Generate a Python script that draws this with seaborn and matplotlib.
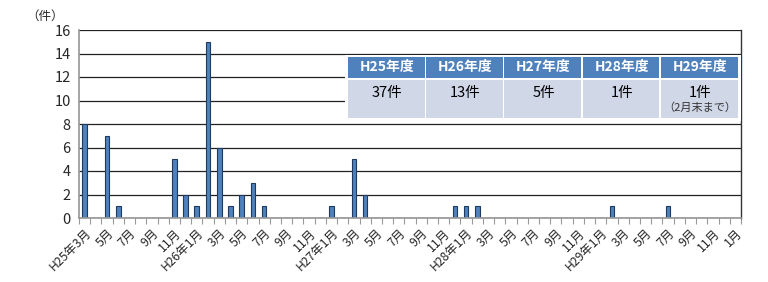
import matplotlib
matplotlib.use("Agg")
import matplotlib.pyplot as plt
import seaborn as sns
import pandas as pd
from matplotlib.patches import Rectangle
from matplotlib.ticker import FixedLocator

# ---- data ----
months = [f"{2013 + (2 + i) // 12}-{(2 + i) % 12 + 1:02d}" for i in range(59)]  # 2013-03 .. 2018-01
counts = [8, 0, 7, 1, 0, 0, 0, 0, 5, 2, 1, 15, 6, 1, 2, 3, 1, 0, 0, 0, 0, 0, 1, 0, 5, 2,
          0, 0, 0, 0, 0, 0, 0, 1, 1, 1, 0, 0, 0, 0, 0, 0, 0, 0, 0, 0, 0, 1, 0, 0, 0, 0, 1,
          0, 0, 0, 0, 0, 0]
tick_labels = ["H25年3月", "5月", "7月", "9月", "11月", "H26年1月", "3月", "5月", "7月", "9月",
               "11月", "H27年1月", "3月", "5月", "7月", "9月", "11月", "H28年1月", "3月", "5月",
               "7月", "9月", "11月", "H29年1月", "3月", "5月", "7月", "9月", "11月", "1月"]
fy_labels = ["H25年度", "H26年度", "H27年度", "H28年度", "H29年度"]
fy_counts = ["37件", "13件", "5件", "1件", "1件"]
fy_notes = ["", "", "", "", "（2月末まで）"]

sns.set_theme(style="white")
plt.rcParams["font.family"] = ["Noto Sans CJK JP", "DejaVu Sans"]

W, H = 768, 282
fig = plt.figure(figsize=(W / 100, H / 100), dpi=100)
L, R, T, B = 79, 741, 30, 218
ax = fig.add_axes([L / W, 1 - B / H, (R - L) / W, (B - T) / H])

df = pd.DataFrame({"month": months, "count": counts})
sns.barplot(data=df, x="month", y="count", order=months, color="#4F81BD",
            saturation=1, width=0.42, edgecolor="#1F3A60", linewidth=0.8, ax=ax)

ax.set_xlim(-0.5, len(months) - 0.5)
ax.set_ylim(0, 16)
ax.set_yticks(range(0, 17, 2))
ax.yaxis.grid(True, color="#222222", linewidth=0.9)
ax.set_axisbelow(True)
ax.set_xlabel("")
ax.set_ylabel("")

ax.set_xticks(range(0, len(months), 2))
ax.set_xticklabels(tick_labels, rotation=45, ha="right", rotation_mode="anchor", fontsize=8.8)
ax.xaxis.set_minor_locator(FixedLocator([i - 0.5 for i in range(len(months) + 1)]))
ax.tick_params(axis="x", which="major", length=0, pad=6)
ax.tick_params(axis="x", which="minor", bottom=True, length=4, width=0.8, color="#999999")
ax.tick_params(axis="y", labelsize=10.5, length=0, pad=6)

ax.spines["top"].set_visible(False)
ax.spines["left"].set_color("#999999")
ax.spines["bottom"].set_color("#999999")
ax.spines["right"].set_color("#333333")
ax.spines["right"].set_linewidth(1.0)

fig.text(26 / W, 1 - 16 / H, "（件）", fontsize=9, ha="left", va="center")

# ---- summary table ----
tx0, tx1, ty0, ty1 = 345, 741, 55, 121
tax = fig.add_axes([tx0 / W, 1 - ty1 / H, (tx1 - tx0) / W, (ty1 - ty0) / H])
tax.set_xlim(tx0, tx1)
tax.set_ylim(ty1, ty0)
tax.axis("off")
tax.add_patch(Rectangle((tx0, ty0), tx1 - tx0, ty1 - ty0, facecolor="white", edgecolor="none"))
cx0, cw = 348, 78.2
for i, (lab, cnt, note) in enumerate(zip(fy_labels, fy_counts, fy_notes)):
    x = cx0 + i * cw
    tax.add_patch(Rectangle((x, 57), cw - 1.5, 21, facecolor="#4F81BD", edgecolor="none"))
    tax.add_patch(Rectangle((x, 80), cw - 1.5, 38, facecolor="#D0D8E8", edgecolor="none"))
    tax.text(x + cw / 2, 67.5, lab, color="white", fontsize=10, fontweight="bold",
             ha="center", va="center")
    tax.text(x + cw / 2, 93, cnt, color="black", fontsize=10.5, ha="center", va="center")
    if note:
        tax.text(x + cw / 2, 108, note, color="#333333", fontsize=8, ha="center", va="center")

fig.savefig("out.png", dpi=100)
